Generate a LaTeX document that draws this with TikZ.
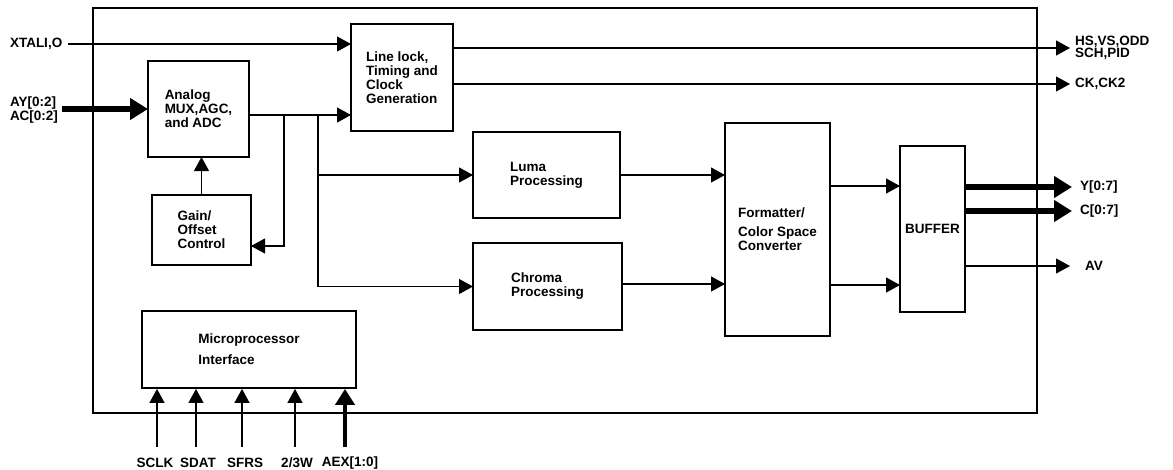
\documentclass[tikz,border=0pt]{standalone}
\usepackage{fontspec}
\setmainfont{Liberation Sans}
\usetikzlibrary{arrows.meta}
\tikzset{
  box/.style={draw, line width=1.8pt, inner sep=0pt, outer sep=0pt, align=left,
    font=\fontsize{13.5}{14}\selectfont\bfseries},
  lbl/.style={inner sep=0pt, outer sep=0pt, align=left, font=\fontsize{13.5}{12}\selectfont\bfseries},
  conn/.style={line width=1.1pt},
  arr/.style={line width=1.1pt, -{Triangle[length=14pt,width=15pt]}},
  bus/.style={line width=5.5pt, -{Triangle[length=18pt,width=21pt]}},
}
\begin{document}
\begin{tikzpicture}[x=1pt,y=-1pt]
\useasboundingbox (0,0) rectangle (1173,469);
% outer chip boundary
\draw[line width=2.2pt] (93,8) rectangle (1037,413);
% blocks
\node[box, minimum width=101pt, minimum height=96pt] (analog) at (198.5,109) {Analog\\MUX,AGC,\\and ADC};
\node[box, minimum width=102pt, minimum height=107pt] (linelock) at (402,77.5) {Line lock,\\Timing and\\Clock\\Generation};
\node[box, minimum width=99pt, minimum height=70pt] (gain) at (201.5,230) {Gain/\\Offset\\Control};
\node[box, minimum width=147pt, minimum height=86pt] (luma) at (546.5,175) {Luma\\Processing};
\node[box, minimum width=149pt, minimum height=87pt] (chroma) at (547.5,286.5) {Chroma\\Processing};
\node[box, minimum width=105pt, minimum height=213pt] (fmt) at (777.5,229.5) {Formatter/\\[5pt]Color Space\\Converter};
\node[box, minimum width=65pt, minimum height=166pt] (buf) at (932.5,229) {BUFFER};
\node[box, minimum width=214pt, minimum height=77pt, font=\fontsize{13.5}{21}\selectfont\bfseries] (micro) at (249,349.5) {Microprocessor\\Interface};
% external labels
\node[lbl, anchor=west] (xtal) at (10,44) {XTALI,O};
\node[lbl, anchor=west, font=\fontsize{13.5}{14}\selectfont\bfseries] (ayac) at (10,110) {AY[0:2]\\AC[0:2]};
\node[lbl, anchor=west] (hs) at (1075,48) {HS,VS,ODD\\SCH,PID};
\node[lbl, anchor=west] (ck) at (1075,84) {CK,CK2};
\node[lbl, anchor=west] (yout) at (1080,187) {Y[0:7]};
\node[lbl, anchor=west] (cout) at (1080,211) {C[0:7]};
\node[lbl, anchor=west] (av) at (1085,266) {AV};
\node[lbl] (sclk) at (155,463) {SCLK};
\node[lbl] (sdat) at (198,463) {SDAT};
\node[lbl] (sfrs) at (245,463) {SFRS};
\node[lbl] (w23) at (297,463) {2/3W};
\node[lbl] (aex) at (350,463) {AEX[1:0]};
% helper coordinates
\coordinate (a1) at (284,115);
\coordinate (a2) at (318,115);
\coordinate (gfb) at (284,246);
\coordinate (hsend) at (1070,48);
\coordinate (ckend) at (1070,84);
\coordinate (yend) at (1072,187);
\coordinate (cend) at (1072,211);
\coordinate (avend) at (1070,266);
% inputs
\draw[arr] ([xshift=6pt]xtal.east) -- (linelock.west |- xtal.east);
\draw[bus] ([xshift=4pt]ayac.east |- analog.west) -- (analog.west);
% analog output bus
\draw[arr] (analog.east |- a1) -- (linelock.west |- a1);
\draw[arr] (a1) -- (gfb) -- (gain.east |- gfb);
\draw[arr] (gain.north) -- (gain.north |- analog.south);
\draw[arr] (a2) |- (luma.west);
\draw[arr] (a2) |- (chroma.west);
% timing outputs
\draw[arr] (linelock.east |- hsend) -- (hsend);
\draw[arr] (linelock.east |- ckend) -- (ckend);
% processing to formatter
\draw[arr] (luma.east) -- (fmt.west |- luma.east);
\draw[arr] (chroma.east |- 0,284) -- (fmt.west |- 0,284);
% formatter to buffer
\draw[arr] (fmt.east |- 0,186) -- (buf.west |- 0,186);
\draw[arr] (fmt.east |- 0,285) -- (buf.west |- 0,285);
% buffer outputs
\draw[bus] (buf.east |- yend) -- (yend);
\draw[bus] (buf.east |- cend) -- (cend);
\draw[arr] (buf.east |- avend) -- (avend);
% microprocessor inputs
\draw[arr] (157,447) -- (157,388.9);
\draw[arr] (196,447) -- (196,388.9);
\draw[arr] (242,447) -- (242,388.9);
\draw[arr] (295,447) -- (295,388.9);
\draw[line width=4pt, -{Triangle[length=16pt,width=19pt]}] (345,447) -- (345,388.9);
\end{tikzpicture}
\end{document}
